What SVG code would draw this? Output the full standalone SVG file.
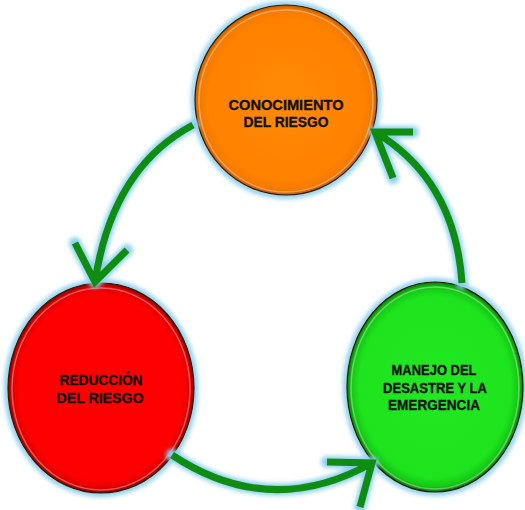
<svg xmlns="http://www.w3.org/2000/svg" width="525" height="510" viewBox="0 0 525 510">
<defs>
<filter id="glow" x="-20%" y="-20%" width="140%" height="140%"><feGaussianBlur stdDeviation="2"/></filter>
<radialGradient id="gOrange" cx="0.5" cy="0.5" r="0.5">
<stop offset="0" stop-color="#ff8a05"/><stop offset="0.85" stop-color="#ff8200"/><stop offset="0.95" stop-color="#f47a00"/><stop offset="1" stop-color="#c85a00"/>
</radialGradient>
<radialGradient id="gRed" cx="0.5" cy="0.5" r="0.5">
<stop offset="0" stop-color="#ff0000"/><stop offset="0.88" stop-color="#ff0000"/><stop offset="0.96" stop-color="#e00000"/><stop offset="1" stop-color="#900000"/>
</radialGradient>
<radialGradient id="gGreen" cx="0.5" cy="0.5" r="0.5">
<stop offset="0" stop-color="#22e822"/><stop offset="0.86" stop-color="#1ee41e"/><stop offset="0.95" stop-color="#14c814"/><stop offset="1" stop-color="#0a7a0a"/>
</radialGradient>
<style>
.halo{fill:none;stroke:#8fd0ef;stroke-width:6;filter:url(#glow)}
.edge{stroke:#2a1a00;stroke-width:1.2}
.rim{fill:none;stroke:#ffffff;stroke-opacity:0.35;stroke-width:1.5}
.lbl{font-family:"Liberation Sans",Arial,sans-serif;font-weight:bold;font-size:15.5px;fill:#111;stroke:#111;stroke-width:0.35;text-anchor:middle}
.cglow{fill:none;stroke:#8fd0ef;stroke-width:12;stroke-linecap:round;stroke-linejoin:round;filter:url(#glow)}
.conn{fill:none;stroke:#0f8c12;stroke-width:7;stroke-linecap:butt;stroke-linejoin:miter}
</style>
</defs>
<rect width="525" height="510" fill="#ffffff"/>
<g id="n-conocimiento">
<ellipse class="halo" cx="286" cy="100" rx="92" ry="96"/>
<ellipse class="edge" cx="286" cy="100" rx="91" ry="95" fill="url(#gOrange)"/>
<ellipse class="rim" cx="286" cy="101" rx="87" ry="91"/>
<text class="lbl" x="286" y="110" textLength="115" lengthAdjust="spacingAndGlyphs">CONOCIMIENTO</text>
<text class="lbl" x="286" y="127" textLength="85" lengthAdjust="spacingAndGlyphs">DEL RIESGO</text>
</g>
<g id="n-reduccion">
<ellipse class="halo" cx="101" cy="388" rx="94" ry="106"/>
<ellipse class="edge" cx="101" cy="388" rx="93" ry="105" fill="url(#gRed)"/>
<ellipse class="rim" cx="101" cy="389" rx="89" ry="101"/>
<text class="lbl" x="101" y="385" textLength="83" lengthAdjust="spacingAndGlyphs">REDUCCIÓN</text>
<text class="lbl" x="100" y="403" textLength="87" lengthAdjust="spacingAndGlyphs">DEL RIESGO</text>
</g>
<g id="n-manejo">
<ellipse class="halo" cx="435" cy="387" rx="89" ry="106"/>
<ellipse class="edge" cx="435" cy="387" rx="88" ry="105" fill="url(#gGreen)"/>
<ellipse class="rim" cx="435" cy="388" rx="84" ry="101"/>
<text class="lbl" x="434" y="375" textLength="85" lengthAdjust="spacingAndGlyphs">MANEJO DEL</text>
<text class="lbl" x="435" y="393" textLength="104" lengthAdjust="spacingAndGlyphs">DESASTRE Y LA</text>
<text class="lbl" x="434" y="410" textLength="92" lengthAdjust="spacingAndGlyphs">EMERGENCIA</text>
</g>
<g id="connectors">
<path class="cglow" d="M193,125 Q112,168 95,282 M75,243 L95,282 L127,250"/>
<path class="cglow" d="M462,283 Q455,180 375,132 M413,132 L375,132 L393,178"/>
<path class="cglow" d="M172,455 Q270,520 372,463 M327,462 L372,463 L360,507"/>
<path class="conn" d="M193,125 Q112,168 95,282 M75,243 L95,282 L127,250"/>
<path class="conn" d="M462,283 Q455,180 375,132 M413,132 L375,132 L393,178"/>
<path class="conn" d="M172,455 Q270,520 372,463 M327,462 L372,463 L360,507"/>
</g>
</svg>
